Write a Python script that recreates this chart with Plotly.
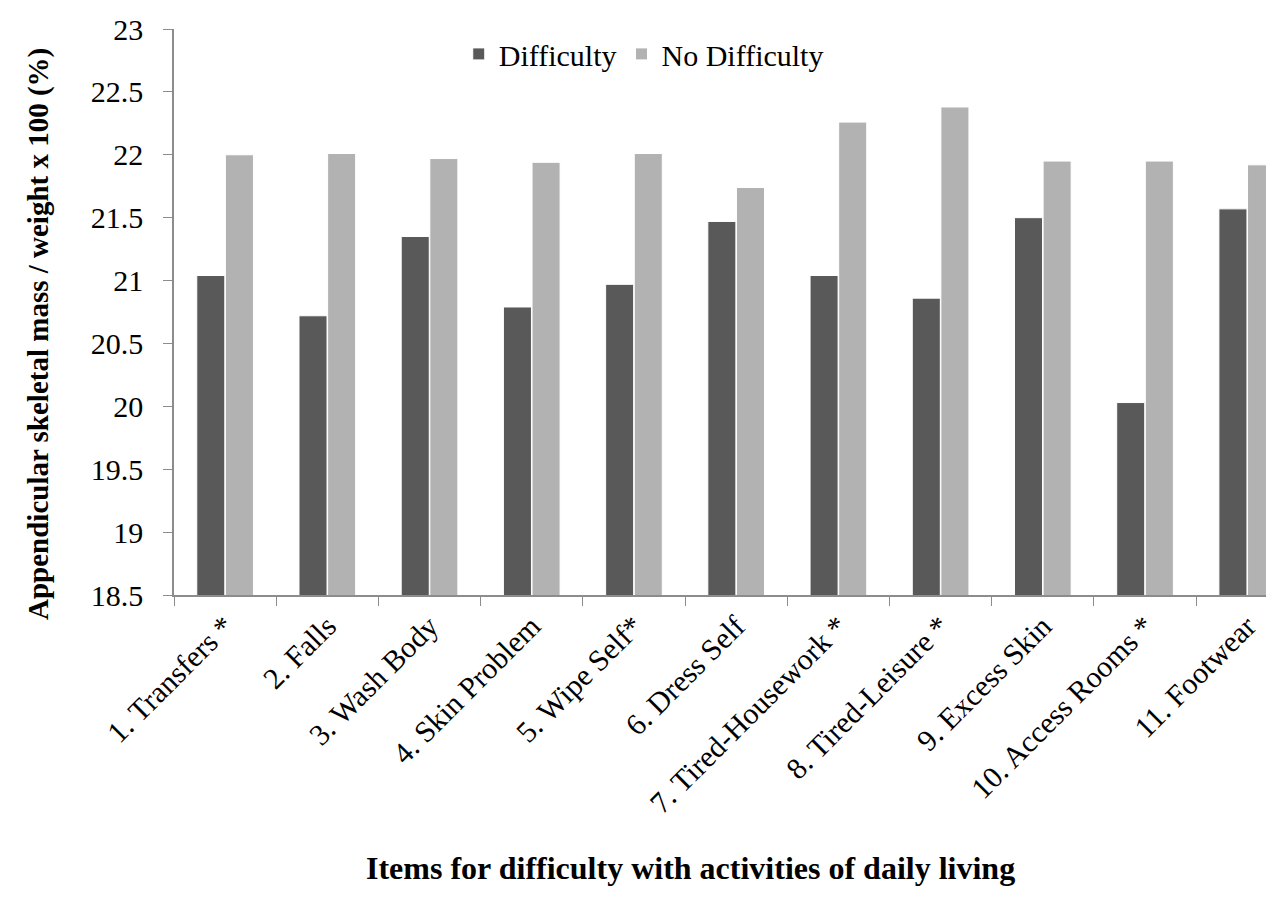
import plotly.graph_objects as go

categories = ["1. Transfers *", "2. Falls", "3. Wash Body", "4. Skin Problem", "5. Wipe Self*",
              "6. Dress Self", "7. Tired-Housework *", "8. Tired-Leisure *", "9. Excess Skin",
              "10. Access Rooms *", "11. Footwear"]
difficulty = [21.04, 20.72, 21.35, 20.79, 20.97, 21.47, 21.04, 20.86, 21.50, 20.03, 21.57]
no_difficulty = [22.00, 22.01, 21.97, 21.94, 22.01, 21.74, 22.26, 22.38, 21.95, 21.95, 21.92]
y_ticks = [18.5, 19, 19.5, 20, 20.5, 21, 21.5, 22, 22.5, 23]

FONT = "Liberation Serif, Times New Roman, serif"

fig = go.Figure()
fig.add_trace(go.Bar(x=categories, y=difficulty, name="Difficulty",
                     marker=dict(color="#595959", line=dict(color="white", width=1))))
fig.add_trace(go.Bar(x=categories, y=no_difficulty, name="No Difficulty",
                     marker=dict(color="#b2b2b2", line=dict(color="white", width=1))))

fig.update_layout(
    width=1274, height=901,
    margin=dict(l=166, r=0, t=21, b=314),
    paper_bgcolor="white", plot_bgcolor="white",
    barmode="group", bargap=0.44, bargroupgap=0.02,
    font=dict(family=FONT, size=30, color="black"),
    showlegend=True,
    legend=dict(orientation="h", x=0.257, y=0.956, xanchor="left", yanchor="middle",
                font=dict(size=30), itemwidth=30, bgcolor="rgba(0,0,0,0)"),
)
fig.update_yaxes(range=[18.5, 23], tickvals=y_ticks, ticktext=[f"{v:g}" for v in y_ticks],
                 automargin=False,
                 showgrid=False, zeroline=False, showline=True, linecolor="#8c8c8c", linewidth=1.5,
                 ticks="outside", ticklen=9, tickcolor="#8c8c8c", tickfont=dict(size=30),
                 ticklabelstandoff=14)
fig.update_xaxes(range=[-0.5, 10.34], tickangle=-45, showgrid=False, showline=True,
                 automargin=False,
                 linecolor="#8c8c8c", linewidth=1.5, ticks="outside", ticklen=9,
                 tickcolor="#8c8c8c", tickson="boundaries", tickfont=dict(size=30))
fig.add_annotation(text="<b>Items for difficulty with activities of daily living</b>",
                   xref="paper", yref="paper", x=(682 - 166) / 1108, y=-0.483, showarrow=False,
                   font=dict(size=32), xanchor="center", yanchor="middle")
fig.add_annotation(text="<b>Appendicular skeletal mass / weight x 100 (%)</b>",
                   xref="paper", yref="paper", x=(30 - 166) / 1108, y=(587 - 326) / 566,
                   showarrow=False, textangle=-90,
                   font=dict(size=29), xanchor="center", yanchor="middle")

fig.write_html("out.html")
